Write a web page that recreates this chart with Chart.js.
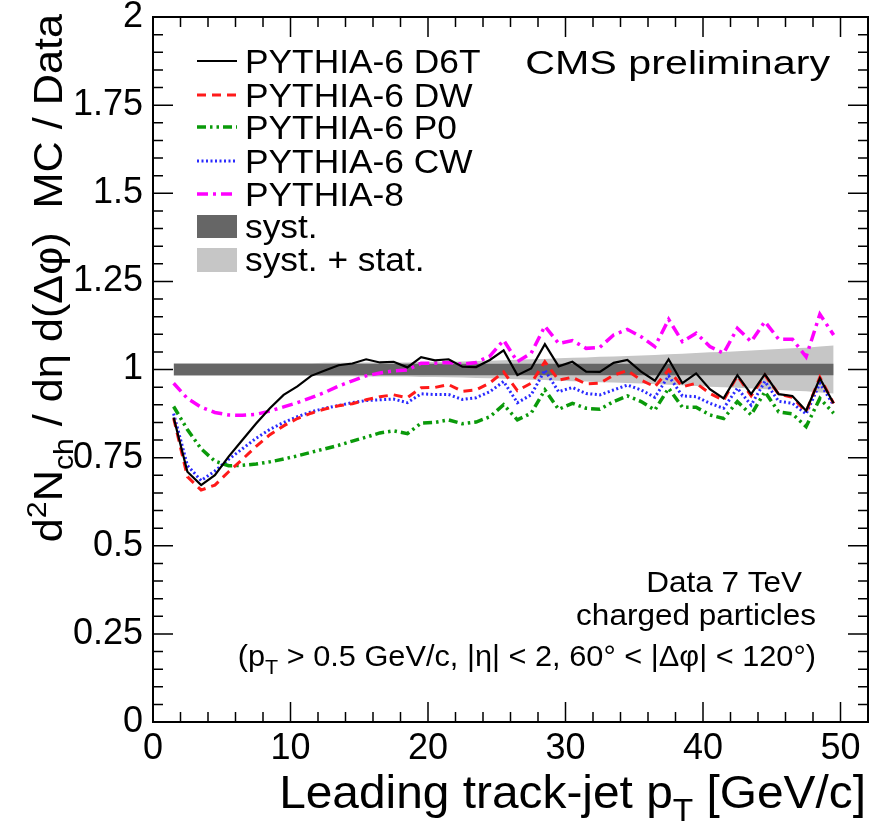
<!DOCTYPE html>
<html><head><meta charset="utf-8">
<script src="https://cdn.jsdelivr.net/npm/chart.js@4.4.1/dist/chart.umd.min.js"></script>
<style>html,body{margin:0;padding:0;background:#fff;}canvas{display:block;}</style>
</head><body>
<canvas id="c" width="870" height="833"></canvas>
<script>
// ---- data ----
const ptCenters = [1.5,2.5,3.5,4.5,5.5,6.5,7.5,8.5,9.5,10.5,11.5,12.5,13.5,14.5,15.5,16.5,17.5,18.5,19.5,20.5,21.5,22.5,23.5,24.5,25.5,26.5,27.5,28.5,29.5,30.5,31.5,32.5,33.5,34.5,35.5,36.5,37.5,38.5,39.5,40.5,41.5,42.5,43.5,44.5,45.5,46.5,47.5,48.5,49.5];
const d6t = [0.864,0.71,0.672,0.70,0.753,0.80,0.847,0.89,0.928,0.952,0.982,0.997,1.012,1.017,1.029,1.02,1.022,1.006,1.035,1.026,1.029,1.008,1.007,1.027,1.054,0.984,1.003,1.072,1.009,1.022,0.994,0.993,1.019,1.027,0.994,0.968,1.029,0.961,0.989,0.944,0.918,0.984,0.930,0.987,0.930,0.925,0.883,0.975,0.904];
const dw = [0.862,0.696,0.658,0.672,0.71,0.745,0.782,0.815,0.84,0.861,0.876,0.888,0.897,0.903,0.914,0.923,0.928,0.920,0.948,0.949,0.957,0.938,0.942,0.962,0.993,0.940,0.961,1.022,0.970,0.978,0.959,0.961,0.984,0.997,0.970,0.951,0.999,0.951,0.961,0.932,0.913,0.982,0.925,0.984,0.930,0.921,0.880,0.978,0.904];
const p0 = [0.895,0.83,0.775,0.74,0.727,0.728,0.732,0.738,0.746,0.755,0.765,0.775,0.785,0.797,0.808,0.82,0.826,0.818,0.848,0.85,0.857,0.846,0.851,0.866,0.9,0.857,0.876,0.942,0.887,0.904,0.890,0.887,0.909,0.925,0.909,0.885,0.947,0.893,0.893,0.871,0.861,0.909,0.871,0.937,0.880,0.874,0.838,0.918,0.876];
const cw = [0.875,0.728,0.685,0.712,0.745,0.775,0.805,0.83,0.85,0.866,0.88,0.89,0.898,0.906,0.912,0.914,0.916,0.906,0.931,0.929,0.929,0.915,0.92,0.937,0.966,0.906,0.928,0.998,0.937,0.949,0.932,0.928,0.942,0.956,0.942,0.921,0.982,0.925,0.923,0.904,0.890,0.947,0.899,0.966,0.910,0.904,0.874,0.961,0.899];
const pythia8 = [0.961,0.918,0.893,0.878,0.871,0.870,0.873,0.882,0.894,0.906,0.92,0.935,0.953,0.968,0.982,0.99,0.996,0.999,1.018,1.018,1.02,1.015,1.02,1.038,1.083,1.022,1.046,1.123,1.074,1.082,1.06,1.063,1.098,1.114,1.093,1.065,1.142,1.079,1.103,1.065,1.046,1.117,1.079,1.136,1.086,1.086,1.036,1.157,1.098];
const systErr = [0.016,0.016,0.016,0.016,0.016,0.016,0.016,0.016,0.016,0.016,0.016,0.016,0.016,0.016,0.016,0.016,0.016,0.016,0.016,0.016,0.016,0.016,0.016,0.016,0.016,0.016,0.016,0.016,0.016,0.016,0.016,0.016,0.016,0.016,0.016,0.016,0.016,0.016,0.016,0.016,0.016,0.016,0.016,0.016,0.016,0.016,0.016,0.016,0.016];
const totErr = [0.018,0.018,0.018,0.018,0.018,0.018,0.018,0.018,0.018,0.018,0.018,0.019,0.019,0.019,0.02,0.02,0.02,0.02,0.021,0.021,0.022,0.023,0.024,0.025,0.026,0.028,0.029,0.03,0.032,0.033,0.034,0.036,0.037,0.038,0.04,0.041,0.043,0.045,0.047,0.049,0.05,0.052,0.054,0.056,0.058,0.06,0.062,0.065,0.068];
const seriesNames = ['PYTHIA-6 D6T','PYTHIA-6 DW','PYTHIA-6 P0','PYTHIA-6 CW','PYTHIA-8'];
const bandNames = ['syst.','syst. + stat.'];
const xTickValues = [0,10,20,30,40,50];
const xTickLabels = ['0','10','20','30','40','50'];
const yTickValues = [0,0.25,0.5,0.75,1,1.25,1.5,1.75,2];
const yTickLabels = ['0','0.25','0.5','0.75','1','1.25','1.5','1.75','2'];

// ---- styles ----
const FONT = '"Liberation Sans", Arial, Helvetica, sans-serif';
const DARK = '#666666', LIGHT = '#c6c6c6';
Chart.defaults.font.family = FONT;
Chart.defaults.color = '#000';

const pts = arr => ptCenters.map((x, i) => ({x, y: arr[i]}));
const band = (err, s) => ptCenters.map((x, i) => ({x, y: 1 + s * err[i]}));

const lineDefs = [
  {label: seriesNames[0], data: pts(d6t), borderColor: '#000000', borderWidth: 2.2, borderDash: [], order: 1},
  {label: seriesNames[1], data: pts(dw), borderColor: '#ff1a1a', borderWidth: 3, borderDash: [9, 6], order: 2},
  {label: seriesNames[2], data: pts(p0), borderColor: '#0a9a0a', borderWidth: 3.5, borderDash: [9, 4, 2.5, 4, 2.5, 4], order: 3},
  {label: seriesNames[3], data: pts(cw), borderColor: '#2a2aff', borderWidth: 3, borderDash: [2, 2.5], order: 4},
  {label: seriesNames[4], data: pts(pythia8), borderColor: '#ff00ff', borderWidth: 3.5, borderDash: [11, 5, 3, 5], order: 5}
];

const datasets = [
  {label: 'totUp', data: band(totErr, 1), borderWidth: 0, borderColor: 'rgba(0,0,0,0)', fill: false, order: 20},
  {label: 'totDown', data: band(totErr, -1), borderWidth: 0, borderColor: 'rgba(0,0,0,0)', fill: '-1', backgroundColor: LIGHT, order: 19},
  {label: 'systUp', data: band(systErr, 1), borderWidth: 0, borderColor: 'rgba(0,0,0,0)', fill: false, order: 18},
  {label: 'systDown', data: band(systErr, -1), borderWidth: 0, borderColor: 'rgba(0,0,0,0)', fill: '-1', backgroundColor: DARK, order: 17},
  ...lineDefs.map(d => Object.assign({fill: false, pointRadius: 0}, d))
];

// rich text: parts = [[text, mode]] mode 0 normal, 1 superscript, -1 subscript; sx = horizontal stretch
function richText(ctx, parts, x, y, align, size, sx) {
  sx = sx || 1;
  const w = parts.map(p => { ctx.font = (p[1] ? size * 0.7 : size) + 'px ' + FONT; return ctx.measureText(p[0]).width; });
  const total = w.reduce((a, b) => a + b, 0);
  ctx.save();
  ctx.translate(x, y);
  ctx.scale(sx, 1);
  let cx = align === 'right' ? -total : (align === 'center' ? -total / 2 : 0);
  ctx.textAlign = 'left'; ctx.textBaseline = 'alphabetic';
  parts.forEach((p, i) => {
    ctx.font = (p[1] ? size * 0.7 : size) + 'px ' + FONT;
    const dy = p[1] === 1 ? -0.4 * size : (p[1] === -1 ? 0.28 * size : 0);
    ctx.fillText(p[0], cx, dy);
    cx += w[i];
  });
  ctx.restore();
}

const framePlugin = {
  id: 'frame',
  afterDatasetsDraw(chart) {
    const ctx = chart.ctx, a = chart.chartArea, xs = chart.scales.x, ys = chart.scales.y;
    ctx.save();
    ctx.strokeStyle = '#000'; ctx.lineWidth = 1.5; ctx.setLineDash([]);
    ctx.beginPath();
    for (let k = 0; k <= 26; k++) {
      const px = xs.getPixelForValue(k * 2);
      const L = (k % 5 === 0) ? 20 : 10;
      ctx.moveTo(px, a.bottom); ctx.lineTo(px, a.bottom - L);
      ctx.moveTo(px, a.top); ctx.lineTo(px, a.top + L);
    }
    for (let k = 0; k <= 40; k++) {
      const py = ys.getPixelForValue(k * 0.05);
      const L = (k % 5 === 0) ? 20 : 10;
      ctx.moveTo(a.left, py); ctx.lineTo(a.left + L, py);
      ctx.moveTo(a.right, py); ctx.lineTo(a.right - L, py);
    }
    ctx.stroke();
    ctx.lineWidth = 2;
    ctx.strokeRect(a.left, a.top, a.right - a.left, a.bottom - a.top);
    ctx.restore();
  }
};

const textPlugin = {
  id: 'texts',
  afterDraw(chart) {
    const ctx = chart.ctx;
    ctx.save();
    ctx.fillStyle = '#000';
    // legend
    const rows = [61, 95, 127, 161, 194];
    lineDefs.forEach((d, i) => {
      ctx.strokeStyle = d.borderColor; ctx.lineWidth = d.borderWidth; ctx.setLineDash(d.borderDash);
      ctx.beginPath(); ctx.moveTo(197, rows[i]); ctx.lineTo(237, rows[i]); ctx.stroke();
      ctx.setLineDash([]);
      richText(ctx, [[d.label, 0]], 245, rows[i] + 12, 'left', 33, 1.07);
    });
    ctx.fillStyle = DARK; ctx.fillRect(197, 215, 40, 23);
    ctx.fillStyle = LIGHT; ctx.fillRect(197, 248, 40, 24);
    ctx.fillStyle = '#000';
    richText(ctx, [[bandNames[0], 0]], 245, 238, 'left', 33, 1.07);
    richText(ctx, [[bandNames[1], 0]], 245, 271, 'left', 33, 1.07);
    // CMS preliminary
    richText(ctx, [['CMS preliminary', 0]], 830, 74, 'right', 33, 1.25);
    // annotations
    richText(ctx, [['Data 7 TeV', 0]], 802, 592, 'right', 30, 1.05);
    richText(ctx, [['charged particles', 0]], 816, 625, 'right', 30, 1.05);
    richText(ctx, [['(p', 0], ['T', -1], [' > 0.5 GeV/c, |η| < 2, 60° < |Δφ| < 120°)', 0]], 816, 666, 'right', 29, 1.06);
    // x title
    richText(ctx, [['Leading track-jet p', 0], ['T', -1], [' [GeV/c]', 0]], 866, 808, 'right', 46, 1.04);
    // y title (rotated, end-aligned at top of axis)
    ctx.translate(62, 14);
    ctx.rotate(-Math.PI / 2);
    richText(ctx, [['d', 0], ['2', 1], ['N', 0], ['ch', -1], [' / dη d(Δφ)  MC / Data', 0]], 0, 0, 'right', 40, 1.08);
    ctx.restore();
  }
};

new Chart(document.getElementById('c').getContext('2d'), {
  type: 'line',
  data: {datasets},
  options: {
    responsive: false, animation: false, devicePixelRatio: 1,
    layout: {padding: {top: 17, right: 2, left: 0, bottom: 0}},
    plugins: {legend: {display: false}, tooltip: {enabled: false}},
    elements: {point: {radius: 0}, line: {tension: 0, borderCapStyle: 'butt'}},
    scales: {
      x: {
        type: 'linear', min: 0, max: 52,
        afterFit(s) { s.height = 111; s.paddingLeft = 0; s.paddingRight = 0; },
        afterBuildTicks(s) { s.ticks = xTickValues.map(v => ({value: v})); },
        ticks: {callback: (v, i) => xTickLabels[i], font: {size: 36}, padding: 5, maxRotation: 0, autoSkip: false, color: '#000'},
        grid: {display: false, drawTicks: false}, border: {display: false}
      },
      y: {
        type: 'linear', min: 0, max: 2,
        afterFit(s) { s.width = 153; s.paddingTop = 0; s.paddingBottom = 0; },
        afterBuildTicks(s) { s.ticks = yTickValues.map(v => ({value: v})); },
        ticks: {callback: (v, i) => yTickLabels[i], font: {size: 36}, padding: 10, autoSkip: false, color: '#000'},
        grid: {display: false, drawTicks: false}, border: {display: false}
      }
    }
  },
  plugins: [framePlugin, textPlugin]
});
</script>
</body></html>
